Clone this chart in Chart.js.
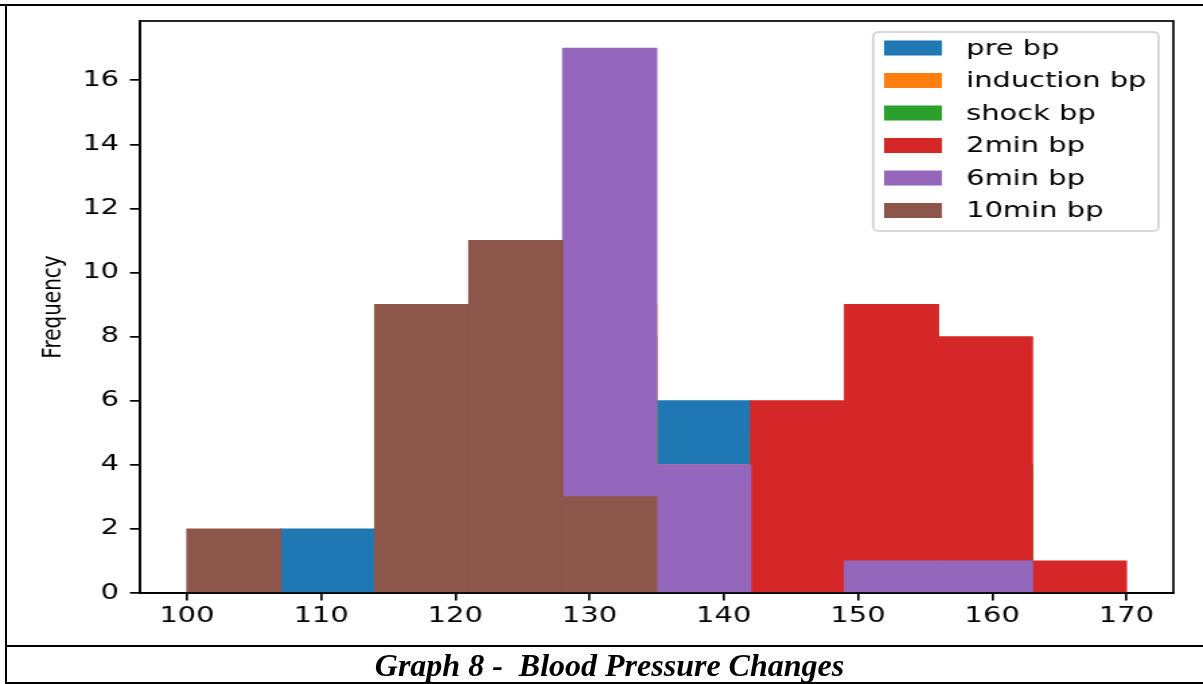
<!DOCTYPE html>
<html>
<head>
<meta charset="utf-8">
<script src="https://cdn.jsdelivr.net/npm/chart.js@4.4.1/dist/chart.umd.min.js"></script>
<style>
  body { margin: 0; width: 1203px; height: 684px; overflow: hidden; background: #fff; position: relative; }
  #wrap { position: absolute; left: 0; top: 0; width: 894px; height: 646px; transform: scaleX(1.3456); transform-origin: 0 0; }
  .line { position: absolute; background: #000; }
  #caption { position: absolute; left: 7px; width: 1205px; top: 647px; height: 36px; line-height: 38px;
    text-align: center; font: italic bold 32px "Liberation Serif", "Times New Roman", serif; white-space: pre; color: #000; }
</style>
</head>
<body>
<div id="wrap"><canvas id="myChart" width="894" height="646"></canvas></div>
<div class="line" style="left:0;top:4px;width:1203px;height:2px"></div>
<div class="line" style="left:5px;top:4px;width:2px;height:680px"></div>
<div class="line" style="left:5px;top:645px;width:1198px;height:2px"></div>
<div class="line" style="left:5px;top:682px;width:1198px;height:2px"></div>
<div id="caption">Graph 8 -  Blood Pressure Changes</div>
<script>
var binEdges = [100, 107, 114, 121, 128, 135, 142, 149, 156, 163, 170];
var seriesLabels = ["pre bp", "induction bp", "shock bp", "2min bp", "6min bp", "10min bp"];
var preBp = [0, 2, 1, 3, 8, 6, 3, 2, 0, 0];
var inductionBp = [0, 0, 2, 5, 9, 4, 3, 2, 0, 0];
var shockBp = [0, 0, 0, 1, 6, 3, 5, 6, 4, 0];
var twoMinBp = [0, 0, 0, 0, 0, 1, 6, 9, 8, 1];
var sixMinBp = [0, 0, 0, 0, 17, 4, 0, 1, 1, 0];
var tenMinBp = [2, 0, 9, 11, 3, 0, 0, 0, 0, 0];
var xTicks = [100, 110, 120, 130, 140, 150, 160, 170];
var yTicks = [0, 2, 4, 6, 8, 10, 12, 14, 16];
var barColors = ["#1f77b4", "#ff7f0e", "#2ca02c", "#d62728", "#9467bd", "#8c564b"];

var allSeries = [preBp, inductionBp, shockBp, twoMinBp, sixMinBp, tenMinBp];

function toPoints(values) {
    return values.map(function (v, i) {
        return { x: (binEdges[i] + binEdges[i + 1]) / 2, y: v };
    });
}

var datasets = allSeries.map(function (values, i) {
    return {
        label: seriesLabels[i],
        data: toPoints(values),
        backgroundColor: barColors[i],
        borderWidth: 0,
        inflateAmount: 0.5,
        barPercentage: 1,
        categoryPercentage: 1,
        grouped: false,
        // later series are painted over earlier ones, like plt.hist
        order: allSeries.length - i,
    };
});

var tickFont = { family: "DejaVu Sans", size: 21.5 };

// axes frame + legend box in the top right corner
var boxPlugin = {
    id: "boxPlugin",
    afterDatasetsDraw: function (chart) {
        var ctx = chart.ctx;
        var a = chart.chartArea;
        ctx.save();
        ctx.strokeStyle = "#000";
        ctx.lineWidth = 1.7;
        ctx.strokeRect(a.left, a.top, a.right - a.left, a.bottom - a.top);

        var w = 212, h = 199;
        var lx = a.right - 11 - w, ly = a.top + 11;
        ctx.beginPath();
        ctx.roundRect(lx, ly, w, h, 4);
        ctx.fillStyle = "rgba(255,255,255,0.8)";
        ctx.fill();
        ctx.strokeStyle = "#cccccc";
        ctx.lineWidth = 1.5;
        ctx.stroke();

        ctx.font = "21.5px 'DejaVu Sans'";
        ctx.textBaseline = "middle";
        chart.data.datasets.forEach(function (ds, i) {
            var cy = ly + 16 + i * 32.5;
            ctx.fillStyle = ds.backgroundColor;
            ctx.fillRect(lx + 8, cy - 7.5, 43, 15);
            ctx.fillStyle = "#000";
            ctx.fillText(ds.label, lx + 69, cy + 1);
        });
        ctx.restore();
    },
};

new Chart("myChart", {
    type: "bar",
    data: { datasets: datasets },
    options: {
        responsive: false,
        animation: false,
        layout: { padding: { left: 24, top: 21, right: 22, bottom: 0 } },
        plugins: {
            legend: { display: false },
            tooltip: { enabled: false },
        },
        scales: {
            x: {
                type: "linear",
                min: 96.5,
                max: 173.5,
                offset: false,
                afterBuildTicks: function (s) {
                    s.ticks = xTicks.map(function (v) { return { value: v }; });
                },
                afterFit: function (s) { s.height = 53; },
                ticks: { font: tickFont, color: "#000", padding: 3, maxRotation: 0, autoSkip: false },
                grid: { offset: false, drawOnChartArea: false, drawTicks: true, tickLength: 7.5, color: "#000", lineWidth: 1.7 },
                border: { display: true, color: "#000", width: 1.7 },
            },
            y: {
                min: 0,
                max: 17.85,
                afterBuildTicks: function (s) {
                    s.ticks = yTicks.map(function (v) { return { value: v }; });
                },
                afterFit: function (s) { s.width = 80; },
                ticks: { font: tickFont, color: "#000", padding: 8 },
                grid: { drawOnChartArea: false, drawTicks: true, tickLength: 7.5, color: "#000", lineWidth: 1.7 },
                border: { display: true, color: "#000", width: 1.7 },
                title: {
                    display: true,
                    text: "Frequency",
                    color: "#000",
                    font: { family: "DejaVu Sans", size: 20 },
                    padding: { top: 4, bottom: 0 },
                },
            },
        },
    },
    plugins: [boxPlugin],
});
</script>
</body>
</html>
